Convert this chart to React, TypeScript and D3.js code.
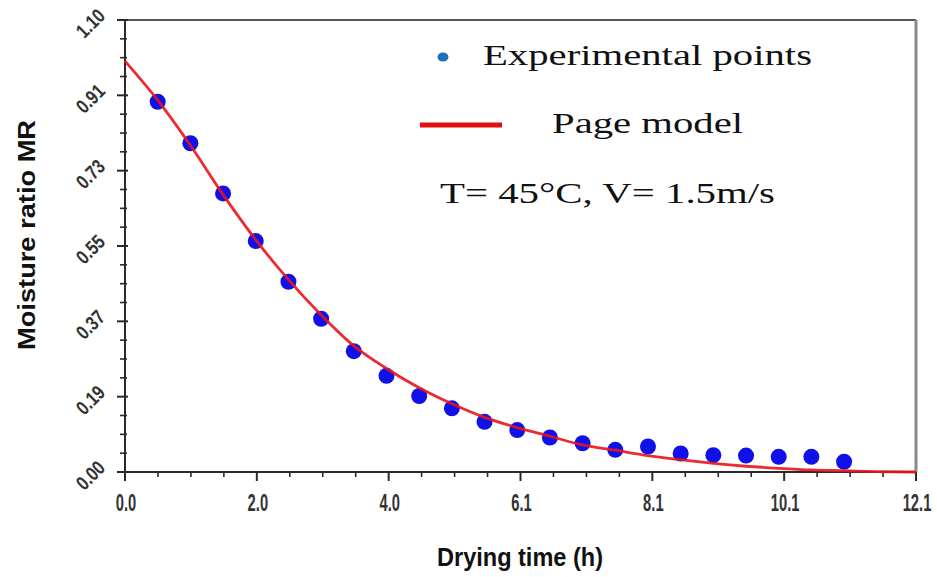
import React from "react";
import * as d3 from "d3";

const timeH = [0.5, 1, 1.5, 2, 2.5, 3, 3.5, 4, 4.5, 5, 5.5, 6, 6.5, 7, 7.5, 8, 8.5, 9, 9.5, 10, 10.5, 11];
const mrExperimental = [0.901, 0.800, 0.678, 0.562, 0.463, 0.373, 0.294, 0.234, 0.185, 0.155, 0.122, 0.102, 0.084, 0.070, 0.054, 0.062, 0.045, 0.041, 0.040, 0.037, 0.037, 0.025];

const modelT = [0, 0.5, 1, 1.5, 2, 2.5, 3, 3.5, 4, 4.5, 5, 5.5, 6, 6.5, 7, 7.5, 8, 8.5, 9, 9.5, 10, 10.5, 11, 11.5, 12.1];
const modelMR = [1.0, 0.905, 0.795, 0.675, 0.565, 0.468, 0.382, 0.307, 0.252, 0.205, 0.166, 0.133, 0.108, 0.087, 0.066, 0.053, 0.040, 0.030, 0.021, 0.014, 0.009, 0.005, 0.003, 0.001, 0.0];

const xTickLabels = ["0.0", "2.0", "4.0", "6.1", "8.1", "10.1", "12.1"];
const yTickLabels = ["0.00", "0.19", "0.37", "0.55", "0.73", "0.91", "1.10"];

const X_MAX = 12.1;
const Y_MAX = 1.1;

export default function App() {
  const W = 937, H = 577;
  const left = 125, right = 916, top = 20, bottom = 472;
  const x = d3.scaleLinear().domain([0, X_MAX]).range([left, right]);
  const y = d3.scaleLinear().domain([0, Y_MAX]).range([bottom, top]);

  const xMajor = xTickLabels.map((_, i) => (X_MAX * i) / 6);
  const yMajor = yTickLabels.map((_, i) => (Y_MAX * i) / 6);
  const xMinor = d3.range(0, 24).map((i) => (X_MAX * i) / 24).filter((_, i) => i % 4 !== 0);
  const yMinor = d3.range(0, 24).map((i) => (Y_MAX * i) / 24).filter((_, i) => i % 4 !== 0);

  const line = d3
    .line<number>()
    .x((_, i) => x(modelT[i]))
    .y((d) => y(d))
    .curve(d3.curveMonotoneX);

  const axisColor = "#2a2a2a";
  const labelColor = "#333";

  return (
    <svg
      width={W}
      height={H}
      style={{ position: "absolute", left: 0, top: 0, background: "#fff" }}
    >
      {/* frame top and right */}
      <line x1={117} x2={right} y1={top} y2={top} stroke="#555" strokeWidth={2} />
      <line x1={right} x2={right} y1={top} y2={bottom} stroke="#8a8a8a" strokeWidth={3} />

      {/* y axis */}
      <line x1={left} x2={left} y1={top} y2={bottom + 6} stroke={axisColor} strokeWidth={2} />
      {yMajor.map((v, i) => (
        <line key={"ym" + i} x1={left - 8} x2={left + 3} y1={y(v)} y2={y(v)} stroke={axisColor} strokeWidth={2} />
      ))}
      {yMinor.map((v, i) => (
        <line key={"yn" + i} x1={left - 5} x2={left + 2} y1={y(v)} y2={y(v)} stroke={axisColor} strokeWidth={1.6} />
      ))}
      {yTickLabels.map((t, i) => (
        <g key={"yl" + i} transform={`translate(${91},${y(yMajor[i]) + 4}) rotate(-45)`}>
          <text
            x={0}
            y={6}
            textAnchor="middle"
            fontFamily="'Liberation Sans', Arial, sans-serif"
            fontWeight="bold"
            fontSize={20}
            fill={labelColor}
            transform="scale(0.8,1)"
          >
            {t}
          </text>
        </g>
      ))}

      {/* x axis */}
      <line x1={117} x2={right} y1={bottom} y2={bottom} stroke={axisColor} strokeWidth={2} />
      {xMajor.map((v, i) => (
        <line key={"xm" + i} x1={x(v)} x2={x(v)} y1={bottom} y2={bottom + 9} stroke={axisColor} strokeWidth={2} />
      ))}
      {xMinor.map((v, i) => (
        <line key={"xn" + i} x1={x(v)} x2={x(v)} y1={bottom} y2={bottom + 5} stroke={axisColor} strokeWidth={1.6} />
      ))}
      {xTickLabels.map((t, i) => (
        <g key={"xl" + i} transform={`translate(${x(xMajor[i]) + 1},${511})`}>
          <text
            x={0}
            y={0}
            textAnchor="middle"
            fontFamily="'Liberation Sans', Arial, sans-serif"
            fontWeight="bold"
            fontSize={23}
            fill={labelColor}
            transform="scale(0.64,1)"
          >
            {t}
          </text>
        </g>
      ))}

      {/* axis titles */}
      <text
        x={520}
        y={566}
        textAnchor="middle"
        fontFamily="'Liberation Sans', Arial, sans-serif"
        fontWeight="bold"
        fontSize={25}
        fill="#111"
        textLength={166}
        lengthAdjust="spacingAndGlyphs"
      >
        Drying time (h)
      </text>
      <text
        transform={`translate(35,235) rotate(-90)`}
        x={0}
        y={0}
        textAnchor="middle"
        fontFamily="'Liberation Sans', Arial, sans-serif"
        fontWeight="bold"
        fontSize={23}
        fill="#111"
        textLength={230}
        lengthAdjust="spacingAndGlyphs"
      >
        Moisture ratio MR
      </text>

      {/* experimental points */}
      {mrExperimental.map((v, i) => (
        <circle key={"p" + i} cx={x(timeH[i])} cy={y(v)} r={8} fill="#1010e8" />
      ))}

      {/* model line */}
      <path d={line(modelMR) || ""} fill="none" stroke="#e8141c" strokeWidth={2.8} strokeOpacity={0.9} />

      {/* legend */}
      <ellipse cx={443} cy={57} rx={5.5} ry={4.5} fill="#1f6fbf" />
      <text
        x={483}
        y={65}
        fontFamily="'Liberation Serif', 'Times New Roman', serif"
        fontSize={29}
        fill="#111"
        textLength={329}
        lengthAdjust="spacingAndGlyphs"
      >
        Experimental points
      </text>
      <line x1={420} x2={502} y1={125} y2={125} stroke="#e01010" strokeWidth={5} />
      <text
        x={552}
        y={133}
        fontFamily="'Liberation Serif', 'Times New Roman', serif"
        fontSize={29}
        fill="#111"
        textLength={191}
        lengthAdjust="spacingAndGlyphs"
      >
        Page model
      </text>
      <text
        x={440}
        y={203}
        fontFamily="'Liberation Serif', 'Times New Roman', serif"
        fontSize={30}
        fill="#111"
        textLength={335}
        lengthAdjust="spacingAndGlyphs"
      >
        T= 45°C, V= 1.5m/s
      </text>
    </svg>
  );
}
